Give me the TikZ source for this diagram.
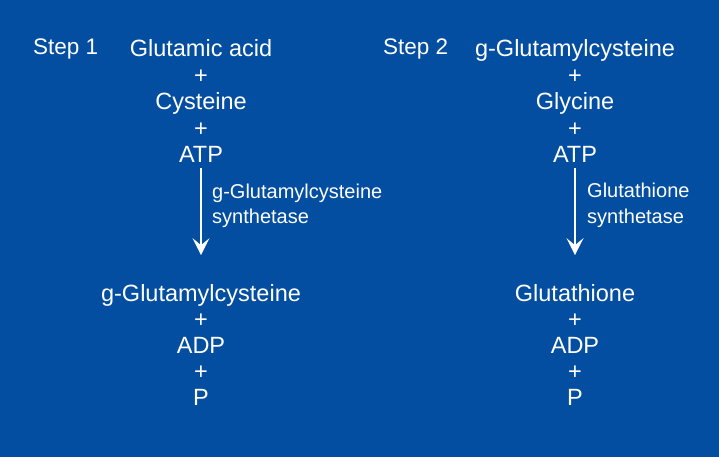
\documentclass[tikz,border=0pt]{standalone}
\usepackage{fontspec}
\setmainfont{Liberation Sans}
\usetikzlibrary{arrows.meta}

\definecolor{bgblue}{RGB}{3,78,160}

\tikzset{
	chem/.style = {anchor = base, inner sep = 0, text = white, font = \fontsize{23.5}{28}\selectfont},
	steplabel/.style = {anchor = base west, inner sep = 0, text = white, font = \fontsize{22.5}{27}\selectfont},
	enzyme/.style = {anchor = base west, inner sep = 0, text = white, font = \fontsize{20}{24}\selectfont},
	react/.style = {-{Stealth[length = 17pt, width = 17pt, inset = 7pt]}, white, line width = 2pt, shorten < = 5pt, shorten > = 28.6pt}
}

\begin{document}
\begin{tikzpicture}[x = 1pt, y = -1pt]

	% Background

	\fill [bgblue] (0, 0) rectangle (719, 457);

	% Step labels

	\node [steplabel] (step1) at (33, 55) {Step 1};
	\node [steplabel] (step2) at (383, 55) {Step 2};

	% Step 1 reactants + products

	\foreach \t [count = \i from 0] in {Glutamic acid, +, Cysteine, +, ATP}
		\node [chem] (s1a\i) at (201, {57 + 26.5 * \i}) {\t};

	\foreach \t [count = \i from 0] in {g-Glutamylcysteine, +, ADP, +, P}
		\node [chem] (s1b\i) at (201, {301 + 26 * \i}) {\t};

	% Step 2 reactants + products

	\foreach \t [count = \i from 0] in {g-Glutamylcysteine, +, Glycine, +, ATP}
		\node [chem] (s2a\i) at (575, {57 + 26.5 * \i}) {\t};

	\foreach \t [count = \i from 0] in {Glutathione, +, ADP, +, P}
		\node [chem] (s2b\i) at (575, {301 + 26 * \i}) {\t};

	% Reaction arrows + enzymes

	\draw [react] (s1a4) -- (s1b0);
	\draw [react] (s2a4) -- (s2b0);

	\node [enzyme] (enz1a) at (212, 198) {g-Glutamylcysteine};
	\node [enzyme] (enz1b) at (212, 223) {synthetase};
	\node [enzyme] (enz2a) at (587, 197) {Glutathione};
	\node [enzyme] (enz2b) at (587, 223) {synthetase};

\end{tikzpicture}
\end{document}
